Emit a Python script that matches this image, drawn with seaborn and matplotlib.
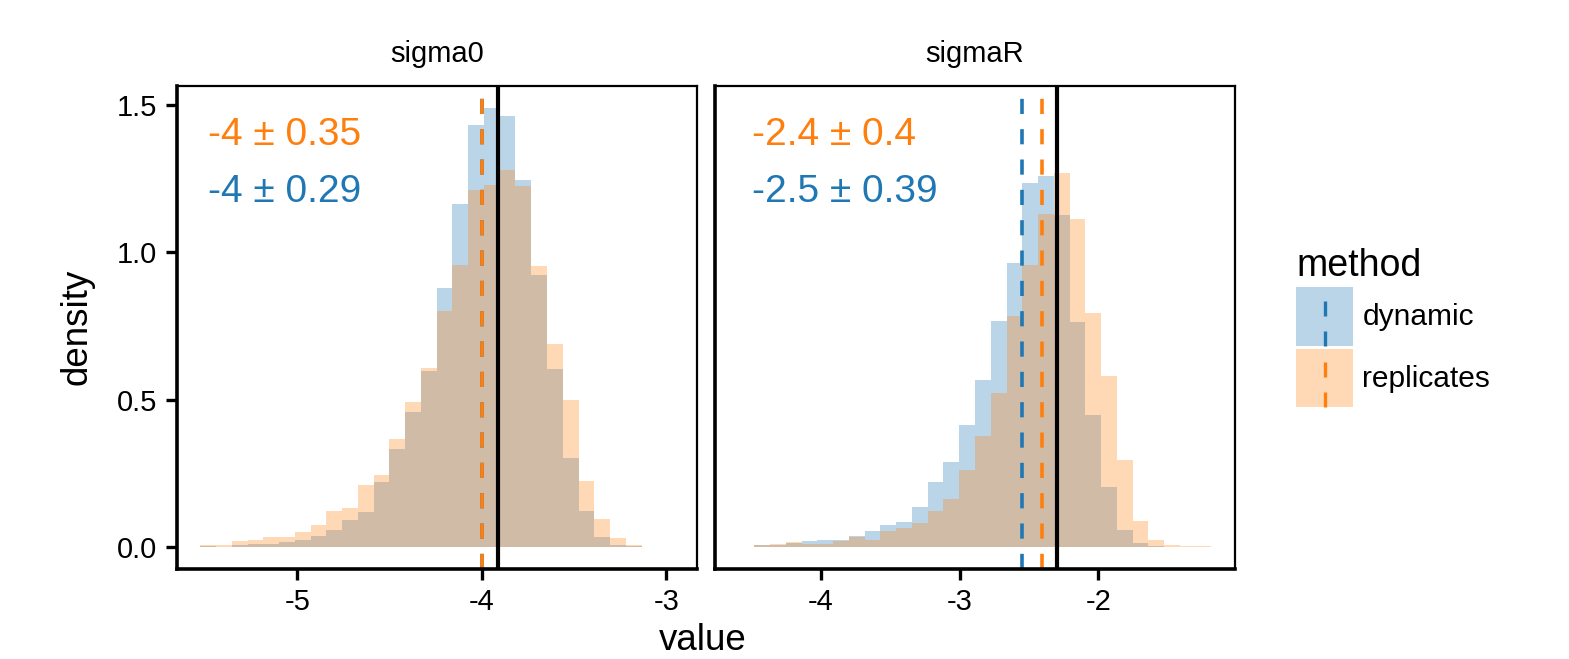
import numpy as np
import pandas as pd
import matplotlib
matplotlib.use("Agg")
import matplotlib.pyplot as plt
import seaborn as sns
from matplotlib.patches import Patch, Rectangle
from matplotlib.lines import Line2D
from matplotlib.legend_handler import HandlerBase

# ---- data (densities per bin, 30 bins per panel) ----
params = ["sigma0", "sigmaR"]
methods = ["dynamic", "replicates"]
bin_lo = [-5.527, -4.593]
bin_hi = [-2.963, -1.185]
n_bins = 30
x_ticks = [[-5, -4, -3], [-4, -3, -2]]

dyn_sigma0 = [0.003, 0.001, 0.008, 0.009, 0.012, 0.016, 0.025, 0.038, 0.058, 0.092,
              0.119, 0.220, 0.332, 0.457, 0.597, 0.880, 1.163, 1.432, 1.489, 1.462,
              1.244, 0.924, 0.604, 0.301, 0.122, 0.035, 0.008, 0.002, 0.0, 0.0]
rep_sigma0 = [0.008, 0.007, 0.020, 0.025, 0.035, 0.035, 0.052, 0.075, 0.122, 0.132,
              0.210, 0.244, 0.368, 0.493, 0.607, 0.800, 0.958, 1.210, 1.229, 1.277,
              1.223, 0.954, 0.688, 0.499, 0.223, 0.095, 0.031, 0.008, 0.001, 0.001]
dyn_sigmaR = [0.0, 0.008, 0.008, 0.015, 0.019, 0.025, 0.025, 0.039, 0.055, 0.076,
              0.085, 0.136, 0.220, 0.287, 0.415, 0.567, 0.765, 0.964, 1.233, 1.257,
              1.126, 0.762, 0.449, 0.203, 0.058, 0.015, 0.004, 0.001, 0.0, 0.0]
rep_sigmaR = [0.001, 0.008, 0.011, 0.016, 0.011, 0.011, 0.022, 0.033, 0.025, 0.053,
              0.065, 0.080, 0.122, 0.163, 0.260, 0.375, 0.523, 0.782, 0.957, 1.129,
              1.267, 1.112, 0.792, 0.580, 0.294, 0.089, 0.025, 0.008, 0.002, 0.002]

mean_dyn = [-4.0, -2.549]
sd_dyn = [0.29, 0.39]
mean_rep = [-4.0, -2.405]
sd_rep = [0.35, 0.4]
true_val = [-3.91, -2.30]

heights = {("sigma0", "dynamic"): dyn_sigma0, ("sigma0", "replicates"): rep_sigma0,
           ("sigmaR", "dynamic"): dyn_sigmaR, ("sigmaR", "replicates"): rep_sigmaR}

colors = {"dynamic": "#1f77b4", "replicates": "#ff7f0e"}

# long table of bin centres and densities
rows = []
for i, p in enumerate(params):
    edges = np.linspace(bin_lo[i], bin_hi[i], n_bins + 1)
    mids = (edges[:-1] + edges[1:]) / 2
    for m in methods:
        for x, d in zip(mids, heights[(p, m)]):
            rows.append({"param": p, "method": m, "mid": x, "density": d})
df = pd.DataFrame(rows)

# ---- style ----
sns.set_style("ticks")
plt.rcParams["font.family"] = ["Liberation Sans", "DejaVu Sans"]
plt.rcParams["axes.unicode_minus"] = False
for k in ["text.color", "axes.labelcolor", "xtick.color", "ytick.color"]:
    plt.rcParams[k] = "black"

fig = plt.figure(figsize=(15.69, 6.59), dpi=100)
W, H = 1569, 659
panel_x = [176.7, 715]
panel_w = 520
top, bottom = 86, 569

dash = (0, (4.2, 4.2))
ymax = max(max(v) for v in heights.values())  # shared y scale
for i, p in enumerate(params):
    ax = fig.add_axes([panel_x[i] / W, 1 - bottom / H, panel_w / W, (bottom - top) / H])
    sub = df[df["param"] == p]
    for m in methods:  # dynamic first, replicates drawn on top
        sns.histplot(data=sub[sub["method"] == m], x="mid", weights="density",
                     bins=n_bins, binrange=(bin_lo[i], bin_hi[i]), stat="count",
                     color=colors[m], alpha=0.3, linewidth=0, ax=ax)
    ax.axvline(mean_dyn[i], color=colors["dynamic"], lw=2.6, ls=dash)
    ax.axvline(mean_rep[i], color=colors["replicates"], lw=2.6, ls=dash)
    ax.axvline(true_val[i], color="black", lw=3.0)

    # ggplot-like 5% expansion
    w = bin_hi[i] - bin_lo[i]
    ax.set_xlim(bin_lo[i] - 0.05 * w, bin_hi[i] + 0.05 * w)
    ax.set_ylim(-0.05 * ymax, 1.05 * ymax)

    ax.set_xlabel("")
    ax.set_ylabel("")
    ax.set_xticks(x_ticks[i])
    ax.xaxis.set_major_formatter(plt.FormatStrFormatter("%g"))
    ax.set_yticks([0, 0.5, 1.0, 1.5])
    ax.yaxis.set_major_formatter(plt.FormatStrFormatter("%.1f"))
    ax.tick_params(axis="both", labelsize=21, length=8, width=2.4, pad=6, color="black")
    if i == 1:
        ax.tick_params(axis="y", left=False, labelleft=False)
    for s in ["top", "right"]:
        ax.spines[s].set_visible(True)
        ax.spines[s].set_linewidth(1.6)
        ax.spines[s].set_color("black")
    for s in ["left", "bottom"]:
        ax.spines[s].set_linewidth(2.6)
        ax.spines[s].set_color("black")

    tx = 0.060 if i == 0 else 0.071
    ax.text(tx, 0.899, f"{mean_rep[i]:.2g} \u00b1 {sd_rep[i]:.2g}", color=colors["replicates"],
            fontsize=28, transform=ax.transAxes, va="center", ha="left")
    ax.text(tx, 0.780, f"{mean_dyn[i]:.2g} \u00b1 {sd_dyn[i]:.2g}", color=colors["dynamic"],
            fontsize=28, transform=ax.transAxes, va="center", ha="left")
    ax.text(0.5, 1 + (top - 54) / (bottom - top), p, fontsize=21, ha="center", va="center",
            transform=ax.transAxes)

fig.text(703 / W, 1 - 650 / H, "value", fontsize=26.5, ha="center", va="baseline")
fig.text(77 / W, 1 - 327 / H, "density", fontsize=26.5, ha="center", va="center", rotation=90)


# legend: filled key with a vertical dashed line through it
class PatchDash(HandlerBase):
    def create_artists(self, legend, orig_handle, xdescent, ydescent, width, height, fontsize, trans):
        c = orig_handle.get_facecolor()
        rect = Rectangle((-xdescent, -ydescent), width, height, facecolor=c[:3], alpha=0.3,
                         lw=0, transform=trans)
        xm = -xdescent + width / 2
        line = Line2D([xm, xm], [-ydescent, -ydescent + height], color=c[:3], lw=2.4,
                      ls=(0, (4.5, 4.5)), transform=trans)
        return [rect, line]


handles = [Patch(facecolor=colors[m]) for m in methods]
leg = fig.legend(handles, methods, title="method", loc="upper left",
                 bbox_to_anchor=(1296 / W, 1 - 248 / H), frameon=False,
                 fontsize=21.5, title_fontsize=27, handlelength=1.92, handleheight=2.65,
                 labelspacing=0.1, handletextpad=0.3, borderpad=0, borderaxespad=0,
                 alignment="left", handler_map={Patch: PatchDash()})

fig.savefig("out.png", dpi=100)
